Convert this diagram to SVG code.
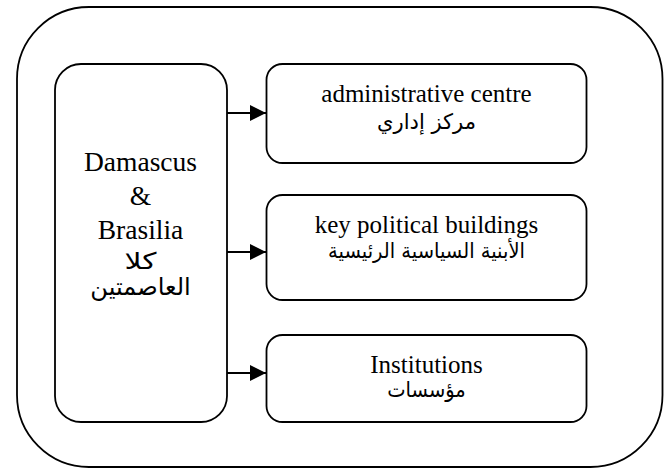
<svg xmlns="http://www.w3.org/2000/svg" width="664" height="470" viewBox="0 0 664 470">
  <style>
    .box { fill: #ffffff; stroke: #000000; stroke-width: 1.8; }
    .edge { fill: none; stroke: #000000; stroke-width: 1.8; }
    .en { font-family: "Liberation Serif", "Times New Roman", serif; fill: #000000; text-anchor: middle; }
    .ar { font-family: "DejaVu Sans", "Noto Sans", sans-serif; fill: #000000; text-anchor: middle; direction: rtl; }
    .big { font-size: 27.5px; }
    .mid { font-size: 25px; }
    .arbig { font-size: 23px; }
    .armid { font-size: 19.5px; }
  </style>
  <defs>
    <marker id="arrow" markerWidth="16" markerHeight="16" refX="16" refY="8" orient="auto" markerUnits="userSpaceOnUse">
      <path d="M0,0 L16,8 L0,16 Z" fill="#000000"/>
    </marker>
  </defs>

  <rect width="664" height="470" fill="#ffffff"/>

  <!-- outer frame -->
  <g id="frame">
    <rect class="box" x="17" y="7" width="645.5" height="460" rx="72" ry="72"/>
  </g>

  <!-- source node: the two capitals -->
  <g id="capitals">
    <rect class="box" x="55" y="64" width="172" height="358" rx="26" ry="26"/>
    <text class="en big" x="140.5" y="171">Damascus</text>
    <text class="en big" x="140.5" y="205">&amp;</text>
    <text class="en big" x="140.5" y="239">Brasilia</text>
    <text class="ar arbig" transform="translate(140.5,269) scale(1.3,1)">كلا</text>
    <text class="ar arbig" transform="translate(140.5,295) scale(1.05,1.05)">العاصمتين</text>
  </g>

  <g id="admin-centre">
    <rect class="box" x="266.5" y="64" width="320" height="99" rx="16" ry="16"/>
    <text class="en mid" x="426.5" y="102">administrative centre</text>
    <text class="ar armid" transform="translate(426.5,129) scale(1.08,1.1)">مركز إداري</text>
  </g>

  <g id="political-buildings">
    <rect class="box" x="266.5" y="195" width="320" height="105" rx="16" ry="16"/>
    <text class="en mid" x="426.5" y="233">key political buildings</text>
    <text class="ar armid" transform="translate(426.5,258) scale(1,1.08)">الأبنية السياسية الرئيسية</text>
  </g>

  <g id="institutions">
    <rect class="box" x="266.5" y="335" width="320" height="87" rx="16" ry="16"/>
    <text class="en mid" x="426.5" y="373">Institutions</text>
    <text class="ar armid" transform="translate(426.5,397) scale(1,1.1)">مؤسسات</text>
  </g>

  <!-- connectors -->
  <g id="connectors">
    <line class="edge" x1="227" y1="113" x2="266" y2="113" marker-end="url(#arrow)"/>
    <line class="edge" x1="227" y1="252" x2="266" y2="252" marker-end="url(#arrow)"/>
    <line class="edge" x1="227" y1="373" x2="266" y2="373" marker-end="url(#arrow)"/>
  </g>
</svg>
